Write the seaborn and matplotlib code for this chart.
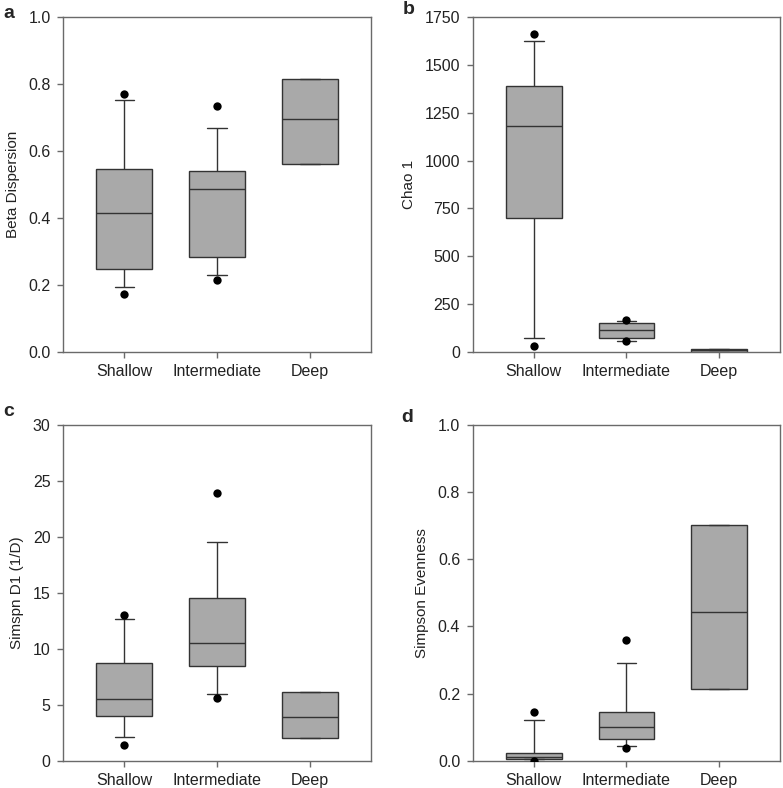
# 四个多样性指标的箱线图 (a-d)
import matplotlib
matplotlib.use('Agg')
import matplotlib.pyplot as plt
import numpy as np
import pandas as pd
import seaborn as sns

groups = ['Shallow', 'Intermediate', 'Deep']

# a: Beta Dispersion
a_whislo = [0.194, 0.231, 0.562]
a_q1 = [0.248, 0.284, 0.562]
a_med = [0.415, 0.488, 0.697]
a_q3 = [0.545, 0.540, 0.814]
a_whishi = [0.751, 0.669, 0.814]
a_out_lo = [0.174, 0.216, np.nan]
a_out_hi = [0.769, 0.733, np.nan]

# b: Chao 1
b_whislo = [73, 60, 1]
b_q1 = [700, 73, 1]
b_med = [1182, 113, 9]
b_q3 = [1391, 149, 17]
b_whishi = [1625, 160, 17]
b_out_lo = [30, 56, np.nan]
b_out_hi = [1661, 166, np.nan]

# c: Simspn D1 (1/D)
c_whislo = [2.09, 5.99, 2.06]
c_q1 = [3.99, 8.46, 2.06]
c_med = [5.48, 10.49, 3.93]
c_q3 = [8.76, 14.51, 6.17]
c_whishi = [12.69, 19.57, 6.17]
c_out_lo = [1.43, 5.57, np.nan]
c_out_hi = [12.99, 23.89, np.nan]

# d: Simpson Evenness
d_whislo = [0.004, 0.044, 0.2135]
d_q1 = [0.005, 0.065, 0.2135]
d_med = [0.010, 0.101, 0.444]
d_q3 = [0.022, 0.146, 0.701]
d_whishi = [0.122, 0.292, 0.701]
d_out_lo = [0.0, 0.039, np.nan]
d_out_hi = [0.144, 0.361, np.nan]

sns.set_style('ticks')
plt.rcParams['font.family'] = ['Liberation Sans', 'DejaVu Sans']

fig = plt.figure(figsize=(7.83, 7.88), dpi=100)
pos = {
    'a': [0.0805, 0.5533, 0.3934, 0.4251],
    'b': [0.6037, 0.5533, 0.3925, 0.4251],
    'c': [0.0805, 0.0346, 0.3934, 0.426],
    'd': [0.6037, 0.0346, 0.3925, 0.426],
}

panels = [
    ('a', a_whislo, a_q1, a_med, a_q3, a_whishi, a_out_lo, a_out_hi,
     'Beta Dispersion', (0, 1.0), np.arange(0, 1.01, 0.2), '{:.1f}'),
    ('b', b_whislo, b_q1, b_med, b_q3, b_whishi, b_out_lo, b_out_hi,
     'Chao 1', (0, 1750), np.arange(0, 1751, 250), '{:.0f}'),
    ('c', c_whislo, c_q1, c_med, c_q3, c_whishi, c_out_lo, c_out_hi,
     'Simspn D1 (1/D)', (0, 30), np.arange(0, 31, 5), '{:.0f}'),
    ('d', d_whislo, d_q1, d_med, d_q3, d_whishi, d_out_lo, d_out_hi,
     'Simpson Evenness', (0, 1.0), np.arange(0, 1.01, 0.2), '{:.1f}'),
]

for key, wlo, q1, med, q3, whi, olo, ohi, ylab, ylim, yt, fmt in panels:
    ax = fig.add_axes(pos[key])
    # 每组5个数: 须下端, Q1, 中位数, Q3, 须上端 -> whis=(0,100)
    rows = []
    for i, g in enumerate(groups):
        for v in [wlo[i], q1[i], med[i], q3[i], whi[i]]:
            rows.append((g, v))
    df = pd.DataFrame(rows, columns=['group', 'value'])
    sns.boxplot(data=df, x='group', y='value', order=groups, whis=(0, 100),
                width=0.6, color='#a9a9a9', saturation=1, linecolor='#333333',
                linewidth=1, capwidths=0.21, showfliers=False, ax=ax)

    odf = pd.DataFrame({'group': groups * 2, 'value': list(olo) + list(ohi)}).dropna()
    sns.stripplot(data=odf, x='group', y='value', order=groups, jitter=False,
                  color='black', size=6, ax=ax, zorder=5)

    ax.set_xlim(-0.66, 2.66)
    ax.set_ylim(*ylim)
    ax.set_yticks(yt)
    ax.set_yticklabels([fmt.format(t) for t in yt])
    ax.set_xlabel('')
    ax.set_ylabel(ylab, fontsize=11, color='#222222', labelpad=6)
    for s in ax.spines.values():
        s.set_visible(True)
        s.set_color('#6a6a6a')
        s.set_linewidth(1)
    ax.tick_params(axis='both', labelsize=11.5, colors='#6a6a6a', labelcolor='#222222',
                   length=4, width=1, pad=5)

letters = {'a': (8.5, 13), 'b': (409, 10), 'c': (8.5, 412), 'd': (407, 418)}
for k, (x, y) in letters.items():
    fig.text(x / 783, 1 - y / 788, k, fontsize=14, fontweight='bold',
             ha='center', va='center')

fig.savefig('out.png', dpi=100)
